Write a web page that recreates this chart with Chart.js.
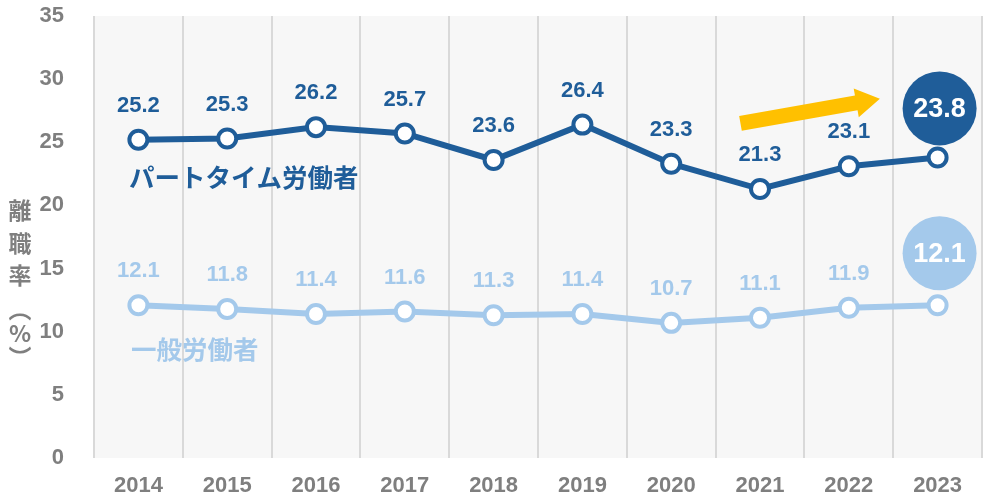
<!DOCTYPE html>
<html>
<head>
<meta charset="utf-8">
<script src="https://cdn.jsdelivr.net/npm/chart.js@4/dist/chart.umd.min.js"></script>
<style>
  html, body { margin: 0; padding: 0; background: #ffffff; }
  #wrap { width: 995px; height: 503px; }
</style>
</head>
<body>
<div id="wrap"><canvas id="chart" width="995" height="503"></canvas></div>
<script>
// data
const years = ['2014', '2015', '2016', '2017', '2018', '2019', '2020', '2021', '2022', '2023'];
const partTime = [25.2, 25.3, 26.2, 25.7, 23.6, 26.4, 23.3, 21.3, 23.1, 23.8];
const general = [12.1, 11.8, 11.4, 11.6, 11.3, 11.4, 10.7, 11.1, 11.9, 12.1];
const yTicks = [0, 5, 10, 15, 20, 25, 30, 35];
const seriesNames = ['パートタイム労働者', '一般労働者'];
const yTitle = ['離', '職', '率', '︵', '%', '︶'];

const darkBlue = '#1f5d99';
const lightBlue = '#a4c9eb';
const gray = '#7f7f7f';
const numFont = '"Liberation Sans", Arial, sans-serif';
const jpFont = '"Noto Sans CJK JP", sans-serif';

// grey background behind the plot area
const plotBg = {
  id: 'plotBg',
  beforeDraw(chart) {
    const a = chart.chartArea;
    const ctx = chart.ctx;
    ctx.save();
    ctx.fillStyle = '#f7f7f7';
    ctx.fillRect(a.left, a.top, a.right - a.left, a.bottom - a.top);
    ctx.restore();
  }
};

// value labels, end badges, series names, arrow, y title
const extras = {
  id: 'extras',
  afterDatasetsDraw(chart) {
    const ctx = chart.ctx;
    const xs = chart.scales.x;
    const ys = chart.scales.y;
    const colors = [darkBlue, lightBlue];
    ctx.save();

    chart.data.datasets.forEach((ds, i) => {
      const pts = chart.getDatasetMeta(i).data;
      const last = pts.length - 1;
      ctx.textAlign = 'center';
      ctx.textBaseline = 'middle';
      ctx.font = 'bold 22px ' + numFont;
      ctx.fillStyle = colors[i];
      for (let j = 0; j < last; j++) {
        ctx.fillText(ds.data[j].toFixed(1), pts[j].x, pts[j].y - 34);
      }
      // big badge for the latest year
      const bx = pts[last].x + 2;
      const by = pts[last].y - (i == 0 ? 49 : 52);
      ctx.beginPath();
      ctx.arc(bx, by, 37, 0, Math.PI * 2);
      ctx.fillStyle = colors[i];
      ctx.fill();
      ctx.fillStyle = '#ffffff';
      ctx.font = 'bold 27px ' + numFont;
      ctx.fillText(ds.data[last].toFixed(1), bx, by + 1);
    });

    // series names
    ctx.textAlign = 'left';
    ctx.font = 'bold 25.5px ' + jpFont;
    ctx.fillStyle = darkBlue;
    ctx.fillText(seriesNames[0], 129, 177);
    ctx.fillStyle = lightBlue;
    ctx.fillText(seriesNames[1], 131, 349);

    // yellow arrow
    const x0 = xs.getPixelForValue(6.78), y0 = ys.getPixelForValue(26.5);
    const x1 = xs.getPixelForValue(8.35), y1 = ys.getPixelForValue(28.45);
    const ang = Math.atan2(y1 - y0, x1 - x0);
    const len = Math.hypot(x1 - x0, y1 - y0);
    const headL = 24, headW = 14.5, shaft = 7.5;
    ctx.translate(x0, y0);
    ctx.rotate(ang);
    ctx.beginPath();
    ctx.moveTo(0, -shaft);
    ctx.lineTo(len - headL, -shaft);
    ctx.lineTo(len - headL, -headW);
    ctx.lineTo(len, 0);
    ctx.lineTo(len - headL, headW);
    ctx.lineTo(len - headL, shaft);
    ctx.lineTo(0, shaft);
    ctx.closePath();
    ctx.fillStyle = '#ffc000';
    ctx.fill();
    ctx.setTransform(1, 0, 0, 1, 0, 0);

    // vertical y-axis title
    ctx.textAlign = 'center';
    ctx.fillStyle = gray;
    ctx.font = 'bold 23px ' + jpFont;
    const ty = [210, 243, 275, 309, 333, 357];
    yTitle.forEach((c, k) => ctx.fillText(c, 20, ty[k]));

    ctx.restore();
  }
};

const pointStyle = (c) => ({
  borderColor: c,
  backgroundColor: c,
  borderWidth: 6,
  pointRadius: 9,
  pointBorderWidth: 4,
  pointBackgroundColor: '#ffffff',
  pointBorderColor: c,
  tension: 0
});

new Chart(document.getElementById('chart').getContext('2d'), {
  type: 'line',
  data: {
    labels: years,
    datasets: [
      Object.assign({ label: seriesNames[0], data: partTime }, pointStyle(darkBlue)),
      Object.assign({ label: seriesNames[1], data: general }, pointStyle(lightBlue))
    ]
  },
  options: {
    responsive: false,
    animation: false,
    events: [],
    layout: { padding: { top: 16, right: 8, left: 0, bottom: 0 } },
    plugins: {
      legend: { display: false },
      tooltip: { enabled: false }
    },
    scales: {
      x: {
        offset: true,
        grid: { offset: true, color: '#d9d9d9', lineWidth: 2, drawTicks: false },
        border: { display: false },
        ticks: { color: gray, padding: 15, font: { family: numFont, size: 22, weight: 'bold' } },
        afterFit: (s) => { s.height = 45; s.paddingLeft = 0; s.paddingRight = 0; }
      },
      y: {
        min: 0,
        max: 35,
        afterBuildTicks: (s) => { s.ticks = yTicks.map(v => ({ value: v })); },
        grid: { display: false },
        border: { display: false },
        ticks: { color: gray, padding: 22, font: { family: numFont, size: 22, weight: 'bold' } },
        afterFit: (s) => { s.width = 94; s.paddingTop = 0; s.paddingBottom = 0; }
      }
    }
  },
  plugins: [plotBg, extras]
});
</script>
</body>
</html>
